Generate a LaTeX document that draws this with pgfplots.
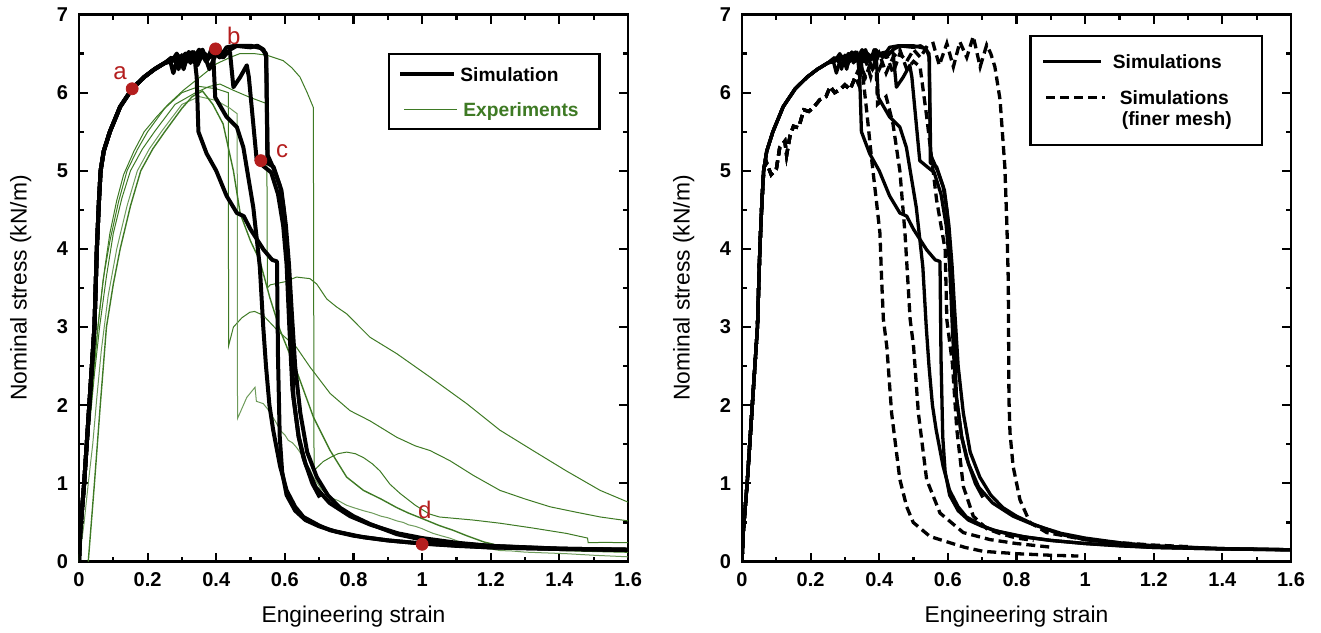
\documentclass[border=0pt]{standalone}
\usepackage{fontspec}
\setmainfont{Liberation Sans}
\usepackage{pgfplots}
\pgfplotsset{compat=1.18}
\definecolor{expgreen}{RGB}{62,122,36}
\definecolor{mkred}{RGB}{180,30,30}
\pgfplotsset{
 myaxis/.style={
  scale only axis, width=274.5pt, height=273.5pt,
  xmin=0,xmax=1.6,ymin=0,ymax=7,
  xtick={0,0.2,0.4,0.6,0.8,1,1.2,1.4,1.6}, ytick={0,1,2,3,4,5,6,7},
  minor xtick={0.1,0.3,0.5,0.7,0.9,1.1,1.3,1.5},
  minor ytick={0.5,1.5,2.5,3.5,4.5,5.5,6.5},
  tick align=inside, xtick pos=both, ytick pos=both,
  major tick length=4.5pt, minor tick length=2.5pt,
  every major tick/.append style={black, line width=1.1pt},
  every minor tick/.append style={black, line width=1.1pt},
  axis line style={line width=1.3pt},
  /pgf/number format/assume math mode=true,
  ticklabel style={font=\bfseries\fontsize{10}{12}\selectfont},
  xticklabel style={yshift=-2pt},
  yticklabel style={xshift=-2pt},
  label style={font=\fontsize{11.4}{13}\selectfont},
  xlabel style={at={([yshift=-30.35pt]axis description cs:0.5,0)}, anchor=base},
  ylabel style={at={([xshift=-26.2pt]axis description cs:0,0.5)}, anchor=base},
  xlabel={Engineering strain}, ylabel={Nominal stress (kN/m)},
  legend style={draw=black, line width=1.2pt, row sep=0pt,
     nodes={inner sep=0pt, text depth=}, inner xsep=0pt,
     font=\bfseries\fontsize{9.6}{11}\selectfont},
 },
 tk/.style={black, line width=1.1pt, mark=none, unbounded coords=jump, forget plot},
 sim/.style={black, line width=2pt, mark=none, line join=round},
 exp/.style={expgreen, line width=0.5pt, mark=none},
 simR/.style={black, line width=1.65pt, mark=none, line join=round},
 fine/.style={black, line width=1.65pt, dash pattern=on 4.5pt off 2.5pt, mark=none},
 limgLa/.style={legend image code/.code={\path[draw=none,fill=none] (0pt,0pt) -- (34pt,0pt); \draw[##1] (5.5pt,0pt) -- (32.5pt,0pt);}},
 limgLb/.style={legend image code/.code={\path[draw=none,fill=none] (0pt,0pt) -- (34pt,0pt); \draw[##1] (7.5pt,0pt) -- (34pt,0pt);}},
 limgRa/.style={legend image code/.code={\path[draw=none,fill=none] (0pt,0pt) -- (37.35pt,0pt); \draw[##1] (6.35pt,0pt) -- (35.35pt,0pt);}},
 limgRb/.style={legend image code/.code={\path[draw=none,fill=none] (0pt,0pt) -- (37.35pt,0pt); \draw[##1] (7.85pt,0pt) -- (37.35pt,0pt);}},
 limgRc/.style={legend image code/.code={\path[draw=none,fill=none] (0pt,0pt) -- (0pt,-12.3pt);}},
}
% x-axis tick marks (bottom and top), lengths 4.5pt / 2.5pt in y units
\def\XTicks{(0.1,0)(0.1,0.064)(0.1,nan)(0.2,0)(0.2,0.1152)(0.2,nan)(0.3,0)(0.3,0.064)(0.3,nan)(0.4,0)(0.4,0.1152)(0.4,nan)(0.5,0)(0.5,0.064)(0.5,nan)(0.6,0)(0.6,0.1152)(0.6,nan)(0.7,0)(0.7,0.064)(0.7,nan)(0.8,0)(0.8,0.1152)(0.8,nan)(0.9,0)(0.9,0.064)(0.9,nan)(1.0,0)(1.0,0.1152)(1.0,nan)(1.1,0)(1.1,0.064)(1.1,nan)(1.2,0)(1.2,0.1152)(1.2,nan)(1.3,0)(1.3,0.064)(1.3,nan)(1.4,0)(1.4,0.1152)(1.4,nan)(1.5,0)(1.5,0.064)(1.5,nan)
(0.1,7)(0.1,6.936)(0.1,nan)(0.2,7)(0.2,6.8848)(0.2,nan)(0.3,7)(0.3,6.936)(0.3,nan)(0.4,7)(0.4,6.8848)(0.4,nan)(0.5,7)(0.5,6.936)(0.5,nan)(0.6,7)(0.6,6.8848)(0.6,nan)(0.7,7)(0.7,6.936)(0.7,nan)(0.8,7)(0.8,6.8848)(0.8,nan)(0.9,7)(0.9,6.936)(0.9,nan)(1.0,7)(1.0,6.8848)(1.0,nan)(1.1,7)(1.1,6.936)(1.1,nan)(1.2,7)(1.2,6.8848)(1.2,nan)(1.3,7)(1.3,6.936)(1.3,nan)(1.4,7)(1.4,6.8848)(1.4,nan)(1.5,7)(1.5,6.936)}
\def\SimA{(0,0)(0.004,0.4)(0.015,1.0)(0.03,2.0)(0.045,3.0)(0.052,4.0)(0.058,4.6)(0.063,5.0)(0.072,5.25)(0.09,5.5)(0.12,5.82)(0.155,6.05)(0.19,6.2)(0.22,6.3)(0.25,6.38)
 (0.265,6.42)(0.275,6.25)(0.285,6.4)(0.295,6.45)(0.305,6.3)(0.315,6.5)(0.325,6.38)(0.335,6.52)(0.343,6.2)(0.348,5.5)(0.372,5.22)(0.40,5.0)(0.43,4.68)(0.46,4.46)(0.48,4.42)(0.5,4.25)(0.538,3.99)(0.563,3.86)(0.577,3.84)(0.58,2.6)(0.585,1.6)(0.592,1.15)(0.605,0.85)(0.63,0.65)(0.66,0.53)(0.7,0.45)(0.75,0.38)(0.8,0.33)(0.9,0.27)(1.0,0.23)(1.1,0.2)(1.2,0.18)(1.3,0.17)(1.4,0.16)(1.6,0.15)}
\def\SimB{(0,0)(0.004,0.4)(0.015,1.0)(0.03,2.0)(0.045,3.0)(0.052,4.0)(0.058,4.6)(0.063,5.0)(0.072,5.25)(0.09,5.5)(0.12,5.82)(0.155,6.05)(0.19,6.2)(0.22,6.3)(0.25,6.38)
 (0.265,6.4)(0.28,6.45)(0.29,6.3)(0.3,6.48)(0.315,6.4)(0.33,6.52)(0.345,6.35)(0.36,6.5)(0.375,6.42)(0.385,6.55)(0.391,6.5)(0.397,5.94)(0.43,5.69)(0.46,5.56)(0.479,5.3)(0.508,4.53)(0.527,3.77)(0.537,3.0)(0.545,2.5)(0.555,2.0)(0.566,1.68)(0.586,1.22)(0.605,0.91)(0.63,0.7)(0.654,0.57)(0.7,0.46)(0.732,0.4)(0.829,0.31)(0.9,0.27)(1.0,0.23)(1.2,0.18)(1.4,0.16)(1.6,0.15)}
\def\SimC{(0,0)(0.004,0.4)(0.015,1.0)(0.03,2.0)(0.045,3.0)(0.052,4.0)(0.058,4.6)(0.063,5.0)(0.072,5.25)(0.09,5.5)(0.12,5.82)(0.155,6.05)(0.19,6.2)(0.22,6.3)(0.25,6.38)
 (0.27,6.45)(0.29,6.35)(0.31,6.5)(0.33,6.4)(0.35,6.55)(0.37,6.4)(0.39,6.55)(0.41,6.45)(0.43,6.58)(0.455,6.6)(0.5,6.58)(0.52,6.6)(0.538,6.55)(0.546,6.45)(0.549,5.1)(0.567,5.05)(0.586,4.8)(0.597,4.5)(0.606,4.0)(0.612,3.5)(0.618,2.96)(0.625,2.1)(0.64,1.6)(0.654,1.33)(0.68,1.0)(0.702,0.82)}
\def\SimD{(0,0)(0.004,0.4)(0.015,1.0)(0.03,2.0)(0.045,3.0)(0.052,4.0)(0.058,4.6)(0.063,5.0)(0.072,5.25)(0.09,5.5)(0.12,5.82)(0.155,6.05)(0.19,6.2)(0.22,6.3)(0.25,6.38)
 (0.27,6.4)(0.285,6.5)(0.3,6.35)(0.32,6.52)(0.34,6.45)(0.36,6.55)(0.38,6.3)(0.4,6.5)(0.42,6.45)(0.44,6.55)(0.46,6.6)(0.5,6.6)(0.53,6.57)(0.545,6.5)(0.55,5.2)(0.57,5.0)(0.59,4.75)(0.603,4.3)(0.612,3.8)(0.62,3.2)(0.63,2.5)(0.645,1.9)(0.665,1.4)(0.693,1.08)(0.725,0.85)(0.76,0.69)(0.8,0.58)(0.848,0.48)(0.926,0.35)(1.0,0.28)(1.1,0.23)(1.2,0.2)(1.3,0.18)(1.4,0.165)(1.6,0.15)}
\def\SimE{(0,0)(0.004,0.4)(0.015,1.0)(0.03,2.0)(0.045,3.0)(0.052,4.0)(0.058,4.6)(0.063,5.0)(0.072,5.25)(0.09,5.5)(0.12,5.82)(0.155,6.05)(0.19,6.2)(0.22,6.3)(0.25,6.38)
 (0.27,6.42)(0.29,6.47)(0.305,6.32)(0.32,6.5)(0.34,6.4)(0.36,6.52)(0.38,6.45)(0.4,6.5)(0.42,6.52)(0.44,6.52)(0.45,6.07)(0.47,6.2)(0.489,6.35)(0.495,6.2)(0.518,5.13)(0.54,5.05)(0.56,4.98)(0.58,4.7)(0.595,4.3)(0.605,3.8)(0.613,3.0)(0.622,2.2)(0.64,1.6)(0.66,1.25)(0.69,0.95)(0.73,0.75)(0.79,0.58)(0.85,0.47)(0.93,0.36)(1.0,0.3)(1.1,0.24)(1.2,0.2)(1.4,0.165)(1.6,0.15)}
\def\FineRise{(0,0)(0.004,0.4)(0.015,1.0)(0.03,2.0)(0.045,3.0)(0.052,4.0)(0.058,4.6)(0.064,5.05)(0.072,5.1)(0.085,4.95)(0.1,5.02)(0.11,5.3)(0.125,5.38)(0.13,5.2)(0.14,5.45)(0.15,5.57)(0.165,5.55)(0.18,5.78)(0.195,5.76)(0.21,5.82)(0.227,5.91)(0.245,5.95)(0.257,6.08)(0.27,6.0)(0.286,6.04)(0.3,6.1)(0.315,6.04)(0.33,6.2)}
\begin{document}
\begin{tikzpicture}
\path[use as bounding box] (0,0) rectangle (660.5pt,316pt);
% ---------------- left panel
\begin{axis}[myaxis, at={(39.5pt,35.25pt)}, anchor=south west,
  legend style={at={(axis description cs:0.5628,0.9305)}, anchor=north west,
    inner ysep=1.075pt, column sep=1.35pt}]
\addlegendimage{sim, limgLa}
\addlegendentry{\raisebox{0pt}[12.675pt][5.875pt]{\makebox[69.65pt][l]{Simulation}}}
\addlegendimage{exp, limgLb}
\addlegendentry{\raisebox{0pt}[11.825pt][5.025pt]{\makebox[69.65pt][l]{\hspace{1.5pt}\textcolor{expgreen}{Experiments}}}}
\addplot[tk] coordinates {\XTicks};
% experiments
\addplot[exp, forget plot] coordinates {(0,0)(0.01,0.6)(0.02,1.2)(0.03,1.75)(0.04,2.3)(0.05,2.78)(0.06,3.2)(0.075,3.75)(0.09,4.2)(0.11,4.62)(0.13,4.95)(0.16,5.25)(0.19,5.5)(0.226,5.69)(0.26,5.85)(0.304,6.03)(0.353,6.2)(0.401,6.37)(0.44,6.45)(0.469,6.5)(0.51,6.5)(0.547,6.48)(0.595,6.41)(0.62,6.32)(0.644,6.2)(0.665,6.0)(0.683,5.81)(0.685,1.16)(0.693,1.2)(0.712,1.28)(0.732,1.33)(0.755,1.38)(0.78,1.4)(0.805,1.38)(0.829,1.33)(0.855,1.25)(0.877,1.16)(0.906,0.99)(0.936,0.87)(0.98,0.72)(1.02,0.61)(1.05,0.57)(1.15,0.53)(1.227,0.49)(1.32,0.43)(1.42,0.36)(1.482,0.3)(1.484,0.24)(1.53,0.245)(1.6,0.24)};
\addplot[exp, forget plot] coordinates {(0,0)(0.015,1)(0.025,1.52)(0.035,2)(0.045,2.52)(0.055,3)(0.07,3.6)(0.09,4.1)(0.115,4.6)(0.14,5.0)(0.17,5.27)(0.2,5.5)(0.25,5.8)(0.3,6.0)(0.35,6.08)(0.4,6.05)(0.435,6.0)(0.436,2.76)(0.45,3.0)(0.475,3.12)(0.498,3.19)(0.512,3.2)(0.537,3.15)(0.58,2.95)(0.634,2.74)(0.673,2.49)(0.732,2.15)(0.79,1.93)(0.848,1.8)(0.926,1.59)(0.98,1.48)(1.023,1.42)(1.081,1.29)(1.15,1.1)(1.227,0.91)(1.3,0.8)(1.373,0.7)(1.45,0.63)(1.519,0.57)(1.6,0.52)};
\addplot[exp, forget plot] coordinates {(0,0)(0.01,0.7)(0.02,1.2)(0.03,1.7)(0.045,2.4)(0.06,3.0)(0.08,3.65)(0.1,4.2)(0.125,4.65)(0.15,5.0)(0.185,5.28)(0.22,5.5)(0.28,5.85)(0.34,6.0)(0.38,6.08)(0.411,6.11)(0.45,6.03)(0.498,5.94)(0.547,5.86)(0.549,3.5)(0.557,3.54)(0.6,3.58)(0.634,3.64)(0.673,3.62)(0.693,3.55)(0.722,3.36)(0.75,3.26)(0.78,3.17)(0.848,2.87)(0.926,2.66)(1.023,2.36)(1.13,2.02)(1.227,1.68)(1.323,1.42)(1.42,1.16)(1.519,0.91)(1.6,0.76)};
\addplot[exp, forget plot, expgreen!75] coordinates {(0,0)(0.015,0.5)(0.027,1.0)(0.04,1.5)(0.052,2.1)(0.065,2.7)(0.085,3.4)(0.11,4.0)(0.14,4.55)(0.17,5.0)(0.205,5.28)(0.24,5.5)(0.3,5.85)(0.35,5.95)(0.4,5.9)(0.44,5.8)(0.461,5.73)(0.462,1.83)(0.489,2.1)(0.513,2.23)(0.517,2.05)(0.537,2.02)(0.55,1.95)(0.56,1.88)(0.573,1.79)(0.586,1.68)(0.6,1.62)(0.61,1.55)(0.622,1.52)(0.634,1.46)(0.647,1.38)(0.66,1.25)(0.672,1.19)(0.683,1.08)(0.695,1.0)(0.705,0.93)(0.718,0.88)(0.732,0.82)(0.755,0.78)(0.78,0.72)(0.8,0.69)(0.829,0.65)(0.855,0.62)(0.88,0.58)(0.9,0.56)(0.926,0.52)(0.945,0.5)(0.96,0.47)(0.98,0.45)(1.0,0.42)(1.015,0.39)(1.032,0.36)(1.055,0.33)(1.08,0.3)(1.105,0.26)(1.13,0.23)(1.155,0.2)(1.18,0.18)(1.2,0.16)(1.227,0.14)(1.26,0.135)(1.3,0.12)(1.36,0.11)(1.42,0.1)(1.46,0.09)(1.5,0.08)(1.55,0.07)(1.6,0.06)};
\addplot[exp, forget plot, line width=0.7pt] coordinates {(0.027,0)(0.045,1)(0.062,2)(0.08,3)(0.1,3.55)(0.12,4.0)(0.15,4.55)(0.18,5.0)(0.215,5.28)(0.25,5.5)(0.3,5.8)(0.33,5.95)(0.36,6.02)(0.39,5.85)(0.42,5.6)(0.45,5.0)(0.47,4.45)(0.5,4.1)(0.527,3.85)(0.556,3.38)(0.586,2.96)(0.634,2.44)(0.683,1.85)(0.732,1.42)(0.78,1.08)(0.829,0.91)(0.88,0.8)(0.926,0.69)(0.96,0.62)(1.0,0.55)(1.05,0.46)(1.09,0.4)(1.13,0.33)(1.18,0.25)(1.227,0.2)(1.3,0.17)(1.42,0.14)(1.5,0.13)(1.6,0.12)};
% simulations
\addplot[sim, forget plot] coordinates {\SimA};
\addplot[sim, forget plot] coordinates {\SimB};
\addplot[sim, forget plot] coordinates {\SimC};
\addplot[sim, forget plot] coordinates {\SimD};
\addplot[sim, forget plot] coordinates {\SimE};
% markers
\addplot[only marks, mark=*, mark size=3pt, color=mkred, forget plot] coordinates {(0.155,6.05)(0.398,6.56)(0.53,5.13)(1.0,0.22)};
\node[mkred, font=\fontsize{12}{14}\selectfont] at (axis cs:0.1195,6.25) {a};
\node[mkred, font=\fontsize{12}{14}\selectfont] at (axis cs:0.451,6.73) {b};
\node[mkred, font=\fontsize{12}{14}\selectfont] at (axis cs:0.592,5.25) {c};
\node[mkred, font=\fontsize{12}{14}\selectfont] at (axis cs:1.008,0.66) {d};
\end{axis}
% ---------------- right panel
\begin{axis}[myaxis, at={(371pt,35.25pt)}, anchor=south west,
  legend style={at={(axis description cs:0.5233,0.963)}, anchor=north west,
    inner ysep=1pt, column sep=3pt}]
\addlegendimage{simR, limgRa}
\addlegendentry{\raisebox{0pt}[15.29pt][8.41pt]{\makebox[74.65pt][l]{Simulations}}}
\addlegendimage{fine, limgRb}
\addlegendentry{\raisebox{0pt}[9.59pt][2.71pt]{\makebox[74.65pt][l]{\hspace{3.5pt}Simulations}}}
\addlegendimage{limgRc}
\addlegendentry{\raisebox{0pt}[7.64pt][0.76pt]{\makebox[74.65pt][l]{\hspace{4.5pt}(finer mesh)}}}
\addplot[tk] coordinates {\XTicks};
\addplot[simR, forget plot] coordinates {\SimA};
\addplot[simR, forget plot] coordinates {\SimB};
\addplot[simR, forget plot] coordinates {\SimC};
\addplot[simR, forget plot] coordinates {\SimD};
\addplot[simR, forget plot] coordinates {\SimE};
% finer mesh
\addplot[fine, forget plot] coordinates {\FineRise
 (0.34,6.1)(0.35,6.3)(0.363,5.78)(0.378,5.14)(0.392,4.6)(0.402,4.2)(0.407,3.6)(0.412,3.1)(0.422,2.75)(0.436,1.9)(0.46,1.05)(0.48,0.7)(0.499,0.5)(0.548,0.32)(0.606,0.24)(0.65,0.18)(0.703,0.13)(0.8,0.1)(0.9,0.08)(0.98,0.07)};
\addplot[fine, forget plot] coordinates {\FineRise
 (0.345,6.3)(0.36,6.42)(0.375,6.2)(0.39,6.45)(0.395,5.85)(0.42,5.95)(0.44,5.6)(0.46,5.0)(0.475,4.2)(0.49,3.1)(0.5,2.75)(0.514,1.9)(0.538,1.05)(0.577,0.62)(0.645,0.37)(0.723,0.28)(0.8,0.23)(0.907,0.18)};
\addplot[fine, forget plot] coordinates {\FineRise
 (0.345,6.25)(0.36,6.45)(0.38,6.3)(0.4,6.5)(0.42,6.25)(0.44,6.45)(0.46,6.55)(0.48,6.3)(0.5,6.4)(0.519,6.33)(0.538,5.7)(0.567,4.63)(0.592,3.99)(0.597,3.09)(0.613,2.54)(0.626,1.69)(0.645,0.96)(0.674,0.58)(0.713,0.42)(0.75,0.36)(0.8,0.3)(0.85,0.27)};
\addplot[fine, forget plot] coordinates {\FineRise
 (0.345,6.35)(0.36,6.2)(0.38,6.45)(0.4,6.3)(0.42,6.5)(0.44,6.25)(0.46,6.5)(0.48,6.4)(0.5,6.55)(0.52,6.45)(0.54,6.6)(0.557,6.63)(0.575,6.35)(0.597,6.63)(0.616,6.33)(0.635,6.65)(0.655,6.45)(0.674,6.72)(0.694,6.33)(0.713,6.61)(0.725,6.5)(0.737,6.33)(0.752,5.91)(0.766,5.05)(0.772,4.3)(0.776,3.6)(0.778,2.07)(0.781,1.65)(0.79,1.22)(0.81,0.79)(0.839,0.5)(0.888,0.37)(1.0,0.28)(1.1,0.24)(1.2,0.21)(1.3,0.19)};
\end{axis}
\end{tikzpicture}
\end{document}
